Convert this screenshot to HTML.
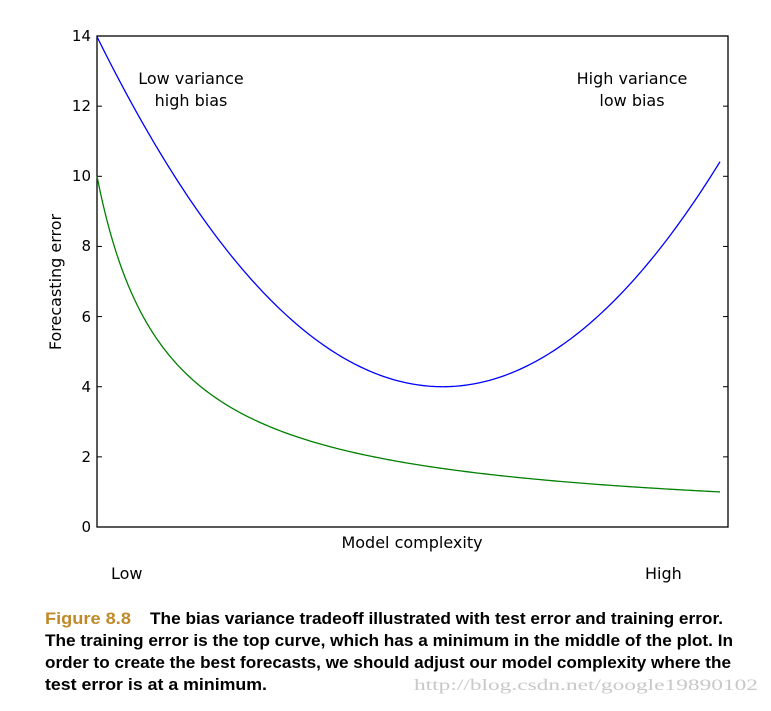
<!DOCTYPE html>
<html><head><meta charset="utf-8"><style>
html,body{margin:0;padding:0;background:#fff;}
svg{display:block;}
</style></head><body>
<svg id="s" width="771" height="711" xmlns="http://www.w3.org/2000/svg" font-family="DejaVu Sans, Liberation Sans, sans-serif">
<rect width="771" height="711" fill="#fff"/>
<rect x="97" y="36" width="631" height="491" fill="none" stroke="#000" stroke-width="1.3"/>
<g id="ticks" stroke="#000" stroke-width="1"></g>
<g font-size="15" text-anchor="end" fill="#000">
<text x="91" y="41">14</text><text x="91" y="111">12</text><text x="91" y="181">10</text>
<text x="91" y="251">8</text><text x="91" y="322">6</text><text x="91" y="392">4</text>
<text x="91" y="462">2</text><text x="91" y="532">0</text>
</g>
<text x="61" y="282" font-size="16" text-anchor="middle" transform="rotate(-90 61 282)">Forecasting error</text>
<text x="412" y="548" font-size="16" text-anchor="middle">Model complexity</text>
<text x="111" y="579" font-size="16">Low</text>
<text x="645" y="579" font-size="16">High</text>
<text x="191" y="84" font-size="16" text-anchor="middle">Low variance</text>
<text x="191" y="106" font-size="16" text-anchor="middle">high bias</text>
<text x="632" y="84" font-size="16" text-anchor="middle">High variance</text>
<text x="632" y="106" font-size="16" text-anchor="middle">low bias</text>
<path id="blue" fill="none" stroke="#0000ff" stroke-width="1.3"/>
<path id="green" fill="none" stroke="#008000" stroke-width="1.3"/>
<g font-family="Liberation Sans Narrow, Liberation Sans, sans-serif" font-weight="bold" font-size="16.5" fill="#000">
<text x="45" y="624" textLength="86" lengthAdjust="spacingAndGlyphs" fill="#c08a2a">Figure 8.8</text>
<text x="150" y="624" textLength="573" lengthAdjust="spacingAndGlyphs">The bias variance tradeoff illustrated with test error and training error.</text>
<text x="45" y="646" textLength="688" lengthAdjust="spacingAndGlyphs">The training error is the top curve, which has a minimum in the middle of the plot. In</text>
<text x="45" y="668" textLength="686" lengthAdjust="spacingAndGlyphs">order to create the best forecasts, we should adjust our model complexity where the</text>
<text x="45" y="690" textLength="222" lengthAdjust="spacingAndGlyphs">test error is at a minimum.</text>
</g>
<text x="414" y="690" font-family="Liberation Serif, serif" font-size="16" fill="#c8c8c8" textLength="344" lengthAdjust="spacingAndGlyphs">http://blog.csdn.net/google19890102</text>
</svg>
<script>
var y=function(v){return 527-v*35.07;};
var b="",g="";
for(var i=0;i<=200;i++){var t=i/200,x=97+t*623;
b+=(i?"L":"M")+x.toFixed(2)+","+y(4+32.4*(t-0.555)*(t-0.555)).toFixed(2);
g+=(i?"L":"M")+x.toFixed(2)+","+y(10/(1+9*t)).toFixed(2);}
document.getElementById("blue").setAttribute("d",b);
document.getElementById("green").setAttribute("d",g);
var tk="";
for(var k=0;k<=14;k+=2){var yy=y(k);tk+='<line x1="97" y1="'+yy+'" x2="102" y2="'+yy+'"/><line x1="723" y1="'+yy+'" x2="728" y2="'+yy+'"/>';}
document.getElementById("ticks").innerHTML=tk;
</script>
</body></html>
